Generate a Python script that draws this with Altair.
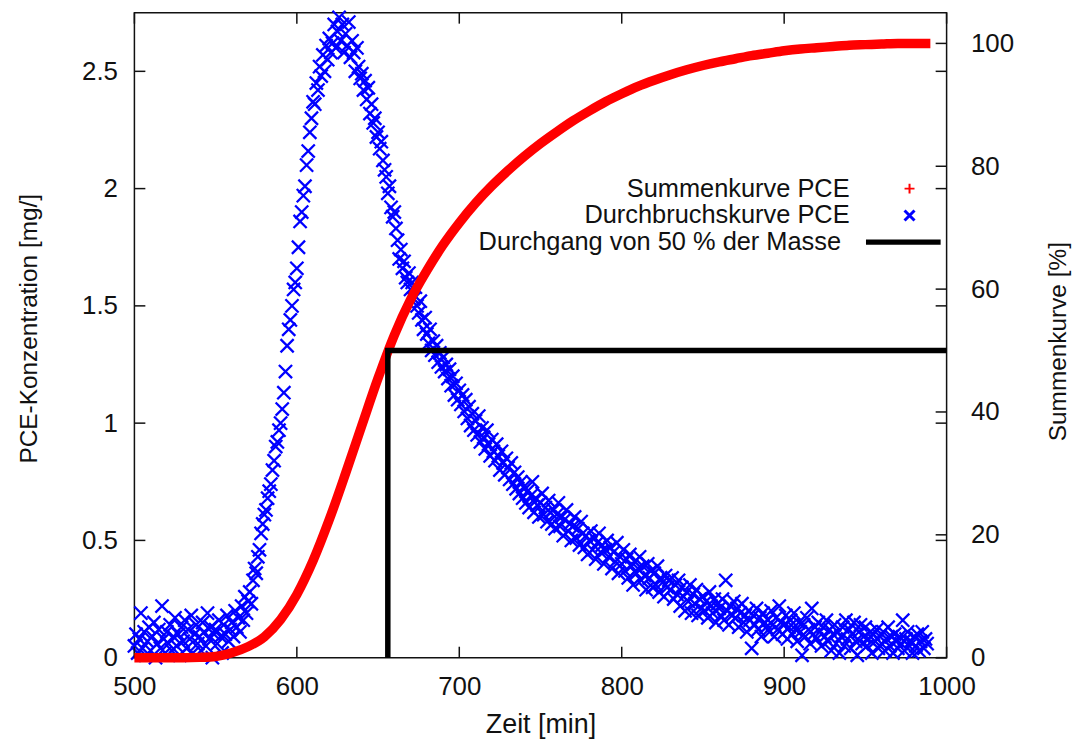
import altair as alt
import pandas as pd

FONT = "Liberation Sans"

# Durchbruchskurve PCE (mg/l), one reading per minute from 500 to 988 min
BLUE_T = list(range(500, 989))
BLUE_C = [
    0.05, 0.10, 0.02, 0.08, 0.19, 0.04, 0.11, 0.01, 0.07, 0.13,
    0.03, 0.09, 0.15, 0.00, 0.06, 0.12, 0.04, 0.22, 0.08, 0.02,
    0.11, 0.06, 0.14, 0.03, 0.09, 0.17, 0.05, 0.10, 0.01, 0.13,
    0.07, 0.16, 0.04, 0.12, 0.08, 0.18, 0.02, 0.10, 0.14, 0.06,
    0.09, 0.03, 0.15, 0.11, 0.05, 0.19, 0.08, 0.13, 0.00, 0.10,
    0.12, 0.06, 0.16, 0.09, 0.02, 0.14, 0.10, 0.18, 0.07, 0.12,
    0.15, 0.09, 0.20, 0.13, 0.17, 0.11, 0.22, 0.16, 0.26, 0.19,
    0.24, 0.28, 0.23, 0.33, 0.38, 0.36, 0.43, 0.46, 0.53, 0.57,
    0.61, 0.63, 0.68, 0.71, 0.74, 0.80, 0.84, 0.90, 0.92, 0.97,
    1.00, 1.06, 1.13, 1.22, 1.33, 1.40, 1.44, 1.50, 1.57, 1.60,
    1.66, 1.75, 1.86, 1.90, 1.97, 2.01, 2.10, 2.16, 2.24, 2.30,
    2.37, 2.36, 2.45, 2.42, 2.52, 2.48, 2.57, 2.50, 2.61, 2.55,
    2.64, 2.58, 2.62, 2.70, 2.60, 2.67, 2.73, 2.63, 2.70, 2.58,
    2.66, 2.61, 2.71, 2.56, 2.63, 2.58, 2.50, 2.60, 2.52, 2.47,
    2.49, 2.42, 2.46, 2.38, 2.43, 2.32, 2.36, 2.28, 2.30, 2.22,
    2.24, 2.17, 2.20, 2.12, 2.08, 2.05, 1.98, 2.01, 1.92, 1.88,
    1.90, 1.83, 1.78, 1.70, 1.74, 1.66, 1.69, 1.62, 1.60, 1.64,
    1.57, 1.60, 1.53, 1.58, 1.50, 1.47, 1.52, 1.44, 1.40, 1.45,
    1.38, 1.34, 1.40, 1.31, 1.35, 1.29, 1.33, 1.26, 1.30, 1.24,
    1.28, 1.22, 1.25, 1.19, 1.23, 1.16, 1.20, 1.12, 1.17, 1.10,
    1.14, 1.08, 1.12, 1.05, 1.10, 1.02, 1.07, 0.99, 1.04, 0.97,
    1.01, 0.95, 1.03, 0.92, 0.98, 0.94, 0.89, 0.97, 0.91, 0.86,
    0.93, 0.88, 0.84, 0.91, 0.86, 0.80, 0.88, 0.83, 0.78, 0.85,
    0.81, 0.76, 0.83, 0.74, 0.79, 0.72, 0.77, 0.70, 0.75, 0.68,
    0.73, 0.66, 0.71, 0.64, 0.69, 0.75, 0.62, 0.68, 0.65, 0.60,
    0.66, 0.70, 0.61, 0.64, 0.58, 0.67, 0.62, 0.57, 0.63, 0.55,
    0.61, 0.66, 0.56, 0.60, 0.52, 0.59, 0.63, 0.54, 0.57, 0.50,
    0.56, 0.60, 0.51, 0.55, 0.48, 0.58, 0.53, 0.47, 0.52, 0.44,
    0.50, 0.54, 0.46, 0.51, 0.42, 0.49, 0.53, 0.45, 0.48, 0.40,
    0.46, 0.50, 0.43, 0.47, 0.38, 0.45, 0.41, 0.49, 0.36, 0.43,
    0.40, 0.46, 0.37, 0.42, 0.34, 0.44, 0.39, 0.31, 0.41, 0.36,
    0.38, 0.43, 0.33, 0.39, 0.35, 0.29, 0.40, 0.34, 0.37, 0.30,
    0.36, 0.31, 0.39, 0.28, 0.34, 0.32, 0.26, 0.35, 0.30, 0.33,
    0.29, 0.34, 0.25, 0.31, 0.27, 0.33, 0.22, 0.30, 0.26, 0.20,
    0.28, 0.24, 0.31, 0.19, 0.27, 0.23, 0.29, 0.18, 0.25, 0.21,
    0.26, 0.20, 0.24, 0.17, 0.28, 0.22, 0.19, 0.25, 0.15, 0.23,
    0.21, 0.18, 0.25, 0.16, 0.33, 0.20, 0.14, 0.22, 0.18, 0.24,
    0.17, 0.21, 0.13, 0.19, 0.23, 0.15, 0.18, 0.11, 0.20, 0.16,
    0.04, 0.18, 0.14, 0.21, 0.12, 0.17, 0.09, 0.19, 0.15, 0.13,
    0.16, 0.11, 0.20, 0.14, 0.09, 0.17, 0.12, 0.22, 0.15, 0.10,
    0.14, 0.18, 0.08, 0.13, 0.16, 0.10, 0.19, 0.12, 0.07, 0.15,
    0.11, 0.01, 0.14, 0.09, 0.17, 0.12, 0.06, 0.21, 0.10, 0.13,
    0.08, 0.15, 0.11, 0.05, 0.13, 0.09, 0.16, 0.07, 0.12, 0.03,
    0.10, 0.14, 0.06, 0.11, 0.02, 0.09, 0.13, 0.05, 0.16, 0.08,
    0.12, 0.04, 0.10, 0.15, 0.07, 0.01, 0.11, 0.14, 0.06, 0.09,
    0.13, 0.05, 0.08, 0.11, 0.02, 0.10, 0.07, 0.12, 0.04, 0.09,
    0.06, 0.11, 0.03, 0.08, 0.13, 0.05, 0.09, 0.02, 0.10, 0.07,
    0.04, 0.09, 0.06, 0.16, 0.03, 0.08, 0.11, 0.05, 0.07, 0.02,
    0.09, 0.05, 0.10, 0.03, 0.07, 0.11, 0.04, 0.08, 0.06,
]

# Summenkurve PCE (%)
RED_T = [500, 510, 520, 530, 540, 550, 560, 570, 580, 590, 600, 610, 620, 630,
         640, 650, 660, 670, 680, 690, 700, 710, 720, 730, 740, 750, 760, 770,
         780, 790, 800, 810, 820, 830, 840, 850, 860, 870, 880, 890, 900, 910,
         920, 930, 940, 950, 960, 970, 980, 990]
RED_P = [0, 0, 0, 0, 0.05, 0.2, 0.8, 1.8, 3.4, 6.2, 10.3, 15.8, 22.5, 30,
         37.8, 45.5, 52.5, 58.3, 63, 67.2, 70.8, 74, 76.8, 79.3, 81.6, 83.7, 85.6, 87.4,
         89.0, 90.5, 91.8, 93.0, 94.0, 94.9, 95.7, 96.4, 97.0, 97.5, 98.0, 98.4, 98.8, 99.1,
         99.3, 99.5, 99.7, 99.8, 99.9, 100, 100, 100]

# Durchgang von 50 % der Masse
BLACK_T = [656, 656, 1000]
BLACK_P = [0, 50, 50]

X_TICKS = [500, 600, 700, 800, 900, 1000]
Y_TICKS = [0, 0.5, 1, 1.5, 2, 2.5]
Y2_TICKS = [0, 20, 40, 60, 80, 100]

S_RED = "Summenkurve PCE"
S_BLUE = "Durchbruchskurve PCE"
S_BLACK = "Durchgang von 50 % der Masse"
XT = "Zeit [min]"
YT = "PCE-Konzentration [mg/]"
Y2T = "Summenkurve [%]"

X_PATH = "M-1,-1L1,1M-1,1L1,-1"
PLUS_PATH = "M-1,0L1,0M0,-1L0,1"
INK = "#111111"

df_blue = pd.DataFrame({"t": BLUE_T, "c": BLUE_C, "s": S_BLUE})
df_red = pd.DataFrame({"t": RED_T, "p": RED_P, "s": S_RED})
df_black = pd.DataFrame({"t": BLACK_T, "p": BLACK_P, "s": S_BLACK,
                         "i": list(range(len(BLACK_T)))})
df_xt = pd.DataFrame({"xt": X_TICKS})
df_yt = pd.DataFrame({"yt": Y_TICKS})
df_y2t = pd.DataFrame({"y2t": Y2_TICKS})

XS = alt.Scale(domain=[500, 1000], nice=False, zero=False)
YS = alt.Scale(domain=[0, 2.75], nice=False, zero=False)
Y2S = alt.Scale(domain=[0, 105], nice=False, zero=False)

AX_X = alt.Axis(values=X_TICKS, format="d", labelPadding=16, labelFlush=False,
                labelOverlap=False, labelFontSize=26, titleFontSize=27,
                titleX=408, titleY=75, titleBaseline="alphabetic", titleAlign="center")
AX_Y = alt.Axis(orient="left", values=Y_TICKS, format="~g", labelPadding=17,
                labelFlush=False, labelOverlap=False, labelFontSize=26, titleFontSize=24.5,
                titleAngle=270, titleX=-98, titleY=317,
                titleBaseline="alphabetic", titleAlign="center")
AX_Y2 = alt.Axis(orient="right", values=Y2_TICKS, labelPadding=24, labelFlush=False,
                 labelOverlap=False, labelFontSize=26, titleFontSize=24.5,
                 titleAngle=270, titleX=119, titleY=330,
                 titleBaseline="alphabetic", titleAlign="center")


def xenc(field):
    return alt.X(field, scale=XS, axis=AX_X, title=XT)


def yenc(field):
    return alt.Y(field, scale=YS, axis=AX_Y, title=YT)


def y2enc(field):
    return alt.Y(field, scale=Y2S, axis=AX_Y2, title=Y2T)


def legend(x, y, shape, size, sw, offset):
    return alt.Legend(orient="none", legendX=x, legendY=y, title=None,
                      symbolType=shape, symbolSize=size, symbolStrokeWidth=sw,
                      labelAlign="right", labelOffset={"expr": str(offset)},
                      labelLimit=600, padding=0, labelFontSize=25.5)


blue = alt.Chart(df_blue).mark_point(
    shape=X_PATH, filled=False, strokeWidth=2.3, size=175, opacity=1
).encode(
    x=xenc("t:Q"),
    y=yenc("c:Q"),
    color=alt.Color("s:N", scale=alt.Scale(domain=[S_BLUE], range=["#0000ff"]),
                    legend=legend(766, 191, X_PATH, 100, 3, -73)),
)

tick_left = alt.Chart(df_yt).mark_rule(x2Offset=11, color=INK, strokeWidth=1.5).encode(
    x=alt.datum(500), x2=alt.datum(500), y=yenc("yt:Q"))
tick_right = alt.Chart(df_yt).mark_rule(x2Offset=-11, color=INK, strokeWidth=1.5).encode(
    x=alt.datum(1000), x2=alt.datum(1000), y=yenc("yt:Q"))
tick_bottom = alt.Chart(df_xt).mark_rule(y2Offset=-11, color=INK, strokeWidth=1.5).encode(
    x=xenc("xt:Q"), y=alt.datum(0), y2=alt.datum(0))
tick_top = alt.Chart(df_xt).mark_rule(y2Offset=11, color=INK, strokeWidth=1.5).encode(
    x=xenc("xt:Q"), y=alt.datum(2.75), y2=alt.datum(2.75))

red = alt.Chart(df_red).mark_line(strokeWidth=9.5, strokeCap="butt", interpolate="monotone").encode(
    x=xenc("t:Q"),
    y=y2enc("p:Q"),
    color=alt.Color("s:N", scale=alt.Scale(domain=[S_RED], range=["#ff0000"]),
                    legend=legend(766, 164, PLUS_PATH, 100, 2, -73)),
)

black = alt.Chart(df_black).mark_line(strokeWidth=5.5, strokeJoin="miter", strokeCap="butt").encode(
    x=xenc("t:Q"),
    y=y2enc("p:Q"),
    order=alt.Order("i:Q"),
    color=alt.Color("s:N", scale=alt.Scale(domain=[S_BLACK], range=["#000000"]),
                    legend=legend(732, 190, "stroke", 5625, 5.5, -103)),
)

tick_right2 = alt.Chart(df_y2t).mark_rule(x2Offset=-11, color=INK, strokeWidth=1.5).encode(
    x=alt.datum(1000), x2=alt.datum(1000), y=y2enc("y2t:Q"))

left = alt.layer(blue, tick_left, tick_right, tick_bottom, tick_top)
right = alt.layer(red, black, tick_right2).resolve_scale(color="independent")

chart = alt.layer(left, right).resolve_scale(
    y="independent", color="independent"
).properties(
    width=816, height=648,
    autosize=alt.AutoSizeParams(type="none"),
    padding={"left": 127, "top": 3, "right": 130, "bottom": 84},
    background="white",
).configure_axis(
    labelFont=FONT, titleFont=FONT,
    titleFontWeight="normal", labelColor=INK, titleColor=INK,
    ticks=False, domain=False, grid=False,
).configure_legend(
    labelFont=FONT, labelColor=INK,
).configure_view(stroke=INK, strokeWidth=1.5)

chart.save("out.html", embed_options={"renderer": "svg", "actions": False})
